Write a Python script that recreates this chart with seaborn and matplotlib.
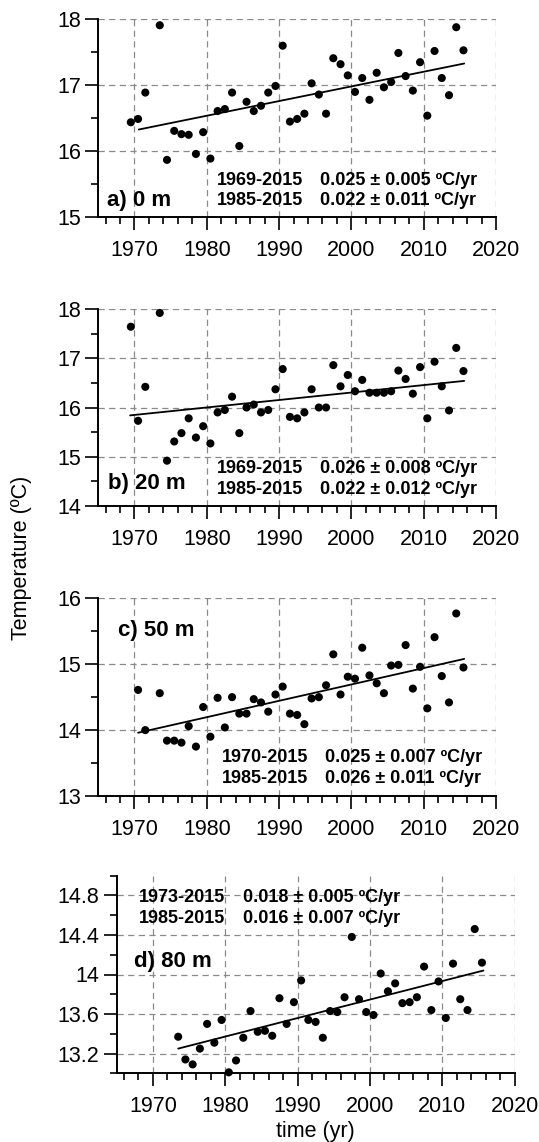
import numpy as np
import pandas as pd
import matplotlib
matplotlib.use("Agg")
import matplotlib.pyplot as plt
import seaborn as sns
from matplotlib.ticker import MultipleLocator, FuncFormatter

# ---------------- data ----------------
years_ab = [1969, 1970, 1971, 1973, 1974, 1975, 1976, 1977, 1978, 1979, 1980,
            1981, 1982, 1983, 1984, 1985, 1986, 1987, 1988, 1989, 1990, 1991,
            1992, 1993, 1994, 1995, 1996, 1997, 1998, 1999, 2000, 2001, 2002,
            2003, 2004, 2005, 2006, 2007, 2008, 2009, 2010, 2011, 2012, 2013,
            2014, 2015]
years_c = [1970, 1971, 1973, 1974, 1975, 1976, 1977, 1978, 1979, 1980,
           1981, 1982, 1983, 1984, 1985, 1986, 1987, 1988, 1989, 1990, 1991,
           1992, 1993, 1994, 1995, 1996, 1997, 1998, 1999, 2000, 2001, 2002,
           2003, 2004, 2005, 2006, 2007, 2008, 2009, 2010, 2011, 2012, 2013,
           2014, 2015]
years_d = [1973, 1974, 1975, 1976, 1977, 1978, 1979, 1980,
           1981, 1982, 1983, 1984, 1985, 1986, 1987, 1988, 1989, 1990, 1991,
           1992, 1993, 1994, 1995, 1996, 1997, 1998, 1999, 2000, 2001, 2002,
           2003, 2004, 2005, 2006, 2007, 2008, 2009, 2010, 2011, 2012, 2013,
           2014, 2015]

temp_0m = [16.44, 16.49, 16.89, 17.91, 15.87, 16.31, 16.26, 16.25, 15.96, 16.29,
           15.89, 16.61, 16.64, 16.89, 16.08, 16.75, 16.61, 16.69, 16.89, 16.99,
           17.60, 16.45, 16.49, 16.57, 17.03, 16.86, 16.57, 17.41, 17.32, 17.15,
           16.90, 17.11, 16.78, 17.19, 16.97, 17.05, 17.49, 17.14, 16.92, 17.35,
           16.54, 17.52, 17.11, 16.85, 17.88, 17.53]
temp_20m = [17.64, 15.73, 16.42, 17.92, 14.92, 15.31, 15.48, 15.78, 15.39, 15.62,
            15.27, 15.90, 15.95, 16.22, 15.48, 16.00, 16.06, 15.90, 15.95, 16.37,
            16.78, 15.81, 15.78, 15.90, 16.37, 16.00, 16.00, 16.86, 16.43, 16.66,
            16.33, 16.56, 16.30, 16.30, 16.30, 16.33, 16.75, 16.58, 16.28, 16.82,
            15.78, 16.93, 16.43, 15.94, 17.21, 16.74]
temp_50m = [14.61, 14.00, 14.56, 13.84, 13.84, 13.81, 14.06, 13.75, 14.35, 13.90,
            14.49, 14.04, 14.50, 14.25, 14.25, 14.47, 14.42, 14.28, 14.54, 14.66,
            14.25, 14.23, 14.09, 14.48, 14.50, 14.68, 15.15, 14.54, 14.81, 14.78,
            15.25, 14.83, 14.71, 14.56, 14.98, 14.99, 15.29, 14.63, 14.96, 14.33,
            15.41, 14.82, 14.42, 15.77, 14.95]
temp_80m = [13.37, 13.14, 13.09, 13.25, 13.50, 13.31, 13.54, 13.01, 13.13, 13.36,
            13.63, 13.42, 13.43, 13.38, 13.76, 13.50, 13.72, 13.94, 13.54, 13.52,
            13.36, 13.63, 13.62, 13.77, 14.38, 13.75, 13.62, 13.59, 14.01, 13.83,
            13.91, 13.71, 13.72, 13.77, 14.08, 13.64, 13.93, 13.56, 14.11, 13.75,
            13.64, 14.46, 14.12]

# linear trend lines (end points)
trend_years_0m = [1970.6, 2015.6]
trend_0m = [16.33, 17.33]
trend_years_20m = [1969.4, 2015.6]
trend_20m = [15.84, 16.54]
trend_years_50m = [1970.5, 2015.6]
trend_50m = [13.96, 15.08]
trend_years_80m = [1973.5, 2015.7]
trend_80m = [13.25, 14.04]

panel_labels = ["a) 0 m", "b) 20 m", "c) 50 m", "d) 80 m"]
periods = [["1969-2015", "1985-2015"], ["1969-2015", "1985-2015"],
           ["1970-2015", "1985-2015"], ["1973-2015", "1985-2015"]]
rates = [["0.025 \u00b1 0.005 \u00baC/yr", "0.022 \u00b1 0.011 \u00baC/yr"],
         ["0.026 \u00b1 0.008 \u00baC/yr", "0.022 \u00b1 0.012 \u00baC/yr"],
         ["0.025 \u00b1 0.007 \u00baC/yr", "0.026 \u00b1 0.011 \u00baC/yr"],
         ["0.018 \u00b1 0.005 \u00baC/yr", "0.016 \u00b1 0.007 \u00baC/yr"]]
x_ticks = [1970, 1980, 1990, 2000, 2010, 2020]
ylims = [(15, 18), (14, 18), (13, 16), (13.0, 15.0)]
ymajor = [1, 1, 1, 0.4]
yminor = [0.5, 0.5, 0.5, 0.2]

# ---------------- style ----------------
sns.set_style("ticks")
plt.rcParams["font.family"] = ["Liberation Sans", "DejaVu Sans"]
plt.rcParams["lines.scale_dashes"] = True
plt.rcParams["text.color"] = "black"
plt.rcParams["axes.labelcolor"] = "black"
plt.rcParams["xtick.color"] = "black"
plt.rcParams["ytick.color"] = "black"

W, H = 539, 1142
fig = plt.figure(figsize=(W / 100, H / 100), dpi=100)

# axes boxes in pixels: left, right, top, bottom
boxes = [(98.3, 496.0, 19.3, 217.3),
         (98.3, 496.0, 309.0, 506.0),
         (98.3, 496.0, 598.3, 796.0),
         (116.7, 514.5, 875.7, 1073.3)]

series = [(years_ab, temp_0m, trend_years_0m, trend_0m),
          (years_ab, temp_20m, trend_years_20m, trend_20m),
          (years_c, temp_50m, trend_years_50m, trend_50m),
          (years_d, temp_80m, trend_years_80m, trend_80m)]

# text placement in axes fractions
label_pos = [(0.021, 0.057), (0.024, 0.086), (0.0495, 0.809), (0.044, 0.540)]
per_x = [0.298, 0.298, 0.311, 0.055]
rate_x = [0.557, 0.557, 0.570, 0.317]
line_y = [(0.163, 0.062), (0.166, 0.061), (0.174, 0.064), (0.868, 0.759)]

MID = 0.5  # annual values plotted at mid-year

for i, ((l, r, t, b), (yrs, vals, tyrs, tvals)) in enumerate(zip(boxes, series)):
    ax = fig.add_axes([l / W, 1 - b / H, (r - l) / W, (b - t) / H])
    df = pd.DataFrame({"year": np.array(yrs) + MID, "temp": vals})
    sns.scatterplot(data=df, x="year", y="temp", ax=ax, color="black", s=34,
                    edgecolor="none", linewidth=0, clip_on=False, zorder=4)
    sns.lineplot(x=tyrs, y=tvals, ax=ax, color="black", linewidth=1.3, zorder=3)

    ax.set_xlim(1965, 2020)
    ax.set_ylim(*ylims[i])
    ax.set_xticks(x_ticks)
    ax.xaxis.set_minor_locator(MultipleLocator(2))
    ax.yaxis.set_major_locator(MultipleLocator(ymajor[i]))
    ax.yaxis.set_minor_locator(MultipleLocator(yminor[i]))
    ax.yaxis.set_major_formatter(FuncFormatter(lambda v, p: "%g" % round(v, 2)))
    ax.set_xlabel("")
    ax.set_ylabel("")

    for s in ["top", "right"]:
        ax.spines[s].set_visible(False)
    for s in ["left", "bottom"]:
        ax.spines[s].set_linewidth(1.4)
        ax.spines[s].set_color("black")

    ax.tick_params(axis="both", which="major", direction="out", length=9.5,
                   width=1.2, color="black", labelsize=15.5, labelcolor="black")
    ax.tick_params(axis="x", which="major", pad=7)
    ax.tick_params(axis="y", which="major", pad=3)
    ax.tick_params(axis="both", which="minor", direction="out", length=5,
                   width=1.2, color="black")

    ax.grid(True, which="major", color="#8a8a8a", linestyle=(0, (5, 3.5)),
            linewidth=0.9)
    ax.set_axisbelow(True)

    ax.text(label_pos[i][0], label_pos[i][1], panel_labels[i],
            transform=ax.transAxes, fontsize=16, fontweight="bold",
            color="black", ha="left", va="baseline")
    for k in range(2):
        ax.text(per_x[i], line_y[i][k], periods[i][k], transform=ax.transAxes,
                fontsize=13, fontweight="bold", color="black",
                ha="left", va="baseline")
        ax.text(rate_x[i], line_y[i][k], rates[i][k], transform=ax.transAxes,
                fontsize=13, fontweight="bold", color="black",
                ha="left", va="baseline")

fig.text(22 / W, 1 - 558 / H, "Temperature (\u00baC)", rotation=90,
         ha="center", va="center", fontsize=15.5, color="black")
fig.text((116.7 + 514.5) / 2 / W, 1 - 1132 / H, "time (yr)",
         ha="center", va="center", fontsize=15.5, color="black")

fig.savefig("out.png", dpi=100)
